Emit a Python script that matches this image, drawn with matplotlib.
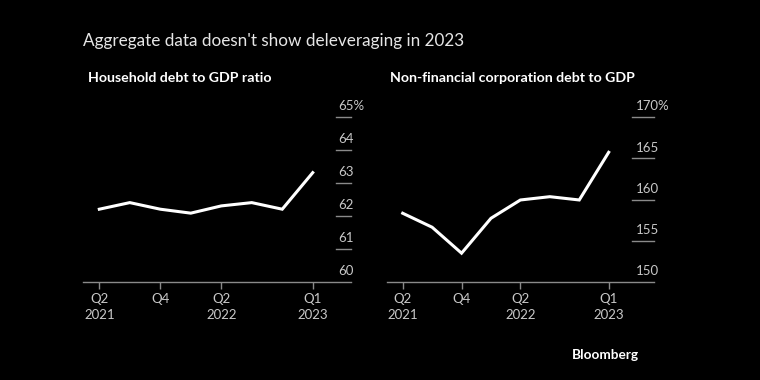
import matplotlib.pyplot as plt

plt.rcParams['font.family'] = ['Lato', 'DejaVu Sans']

# quarters Q2 2021 .. Q1 2023
quarters = ['Q2\n2021', 'Q3', 'Q4', 'Q1', 'Q2\n2022', 'Q3', 'Q4', 'Q1\n2023']
shown_ticks = [0, 2, 4, 7]
shown_labels = ['Q2\n2021', 'Q4', 'Q2\n2022', 'Q1\n2023']

household = [62.21, 62.41, 62.21, 62.09, 62.31, 62.41, 62.21, 63.32]
corporate = [158.35, 156.65, 153.5, 157.74, 159.96, 160.36, 159.96, 165.75]

house_ticks = [60, 61, 62, 63, 64, 65]
corp_ticks = [150, 155, 160, 165, 170]

bg = '#000000'
fg = '#ffffff'
label_col = '#c8c8c8'
axis_col = '#8a8a8a'

fig = plt.figure(figsize=(7.6, 3.8), dpi=100, facecolor=bg)

fig.text(83/760, 1 - 41/380, "Aggregate data doesn't show deleveraging in 2023",
         color='#e6e6e6', fontsize=12.3, va='center', ha='left')


def panel(rect, xlim, ylim, values, yticks, subtitle, sub_x, tick_start, lab_off):
    ax = fig.add_axes(rect)
    ax.set_facecolor(bg)
    x = list(range(len(values)))
    ax.plot(x, values, color=fg, lw=2.2, solid_joinstyle='miter', zorder=3)
    ax.set_xlim(*xlim)
    ax.set_ylim(*ylim)
    for s in ['top', 'right', 'left']:
        ax.spines[s].set_visible(False)
    ax.spines['bottom'].set_color(axis_col)
    ax.spines['bottom'].set_linewidth(1)
    ax.set_yticks([])
    ax.set_xticks(shown_ticks)
    ax.set_xticklabels(shown_labels, color=label_col, fontsize=9.5, linespacing=1.35)
    ax.tick_params(axis='x', length=5, color=axis_col, width=1, pad=3)
    for i, v in enumerate(yticks):
        if i > 0:
            ax.axhline(v, xmin=tick_start, xmax=1, color=axis_col, lw=1, clip_on=False)
        lab = str(v) + ('%' if i == len(yticks) - 1 else '')
        ax.annotate(lab, xy=(1, v), xycoords=('axes fraction', 'data'),
                    xytext=(lab_off, 3.5), textcoords='offset points',
                    ha='left', va='bottom', color=label_col, fontsize=9.5,
                    annotation_clip=False)
    fig.text(sub_x, 1 - 78/380, subtitle, color=fg, fontsize=10.2,
             fontweight='bold', va='center', ha='left')
    return ax


panel([83/760, 98/380, 268/760, 164.7/380], (-0.535, 8.255), (60, 65),
      household, house_ticks, 'Household debt to GDP ratio', 88/760, 0.944, -9.4)
panel([386.7/760, 98/380, 267.3/760, 164.7/380], (-0.544, 8.54), (150, 170),
      corporate, corp_ticks, 'Non-financial corporation debt to GDP', 390/760, 0.918, -13)

fig.text(639/760, 1 - 355/380, 'Bloomberg', color=fg, fontsize=9.8,
         fontweight='bold', ha='right', va='center')

fig.savefig('out.png', dpi=100, facecolor=bg)
